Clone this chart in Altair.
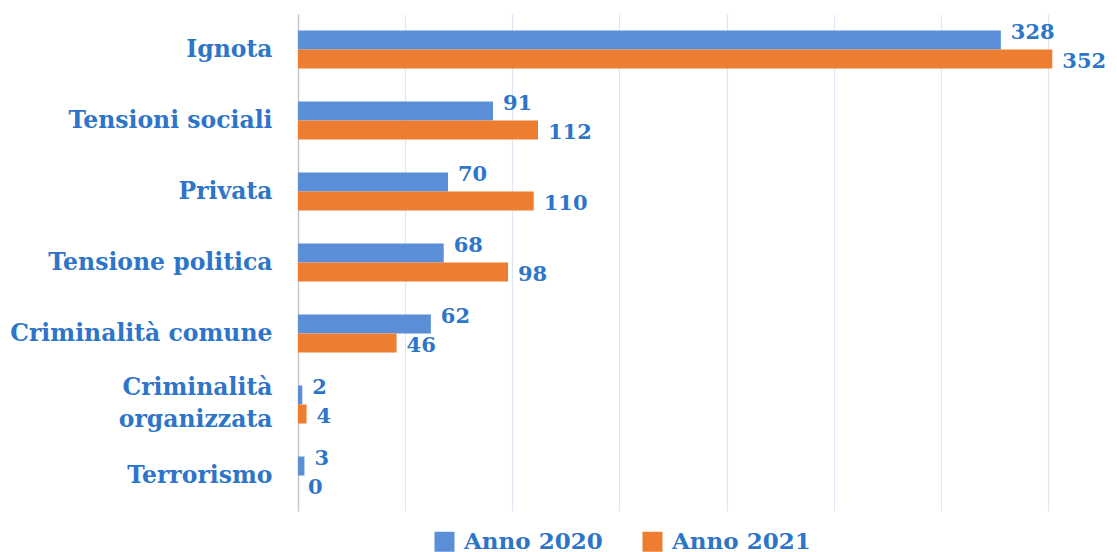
import altair as alt
import pandas as pd

categories = ["Ignota", "Tensioni sociali", "Privata", "Tensione politica",
              "Criminalità comune", "Criminalità organizzata", "Terrorismo"]
vals_2020 = [328, 91, 70, 68, 62, 2, 3]
vals_2021 = [352, 112, 110, 98, 46, 4, 0]
series = ["Anno 2020", "Anno 2021"]
colors = ["#5a8fd7", "#ed7d31"]
grid_values = [0, 50, 100, 150, 200, 250, 300, 350]

rows = []
for c, a, b in zip(categories, vals_2020, vals_2021):
    rows.append({"cat": c, "serie": series[0], "val": a})
    rows.append({"cat": c, "serie": series[1], "val": b})
df = pd.DataFrame(rows)

FONT = "DejaVu Serif"
TXT = "#2e75c9"

y = alt.Y("cat:N", sort=categories, title=None,
          scale=alt.Scale(paddingInner=0.465, paddingOuter=0.2325),
          axis=alt.Axis(labelFont=FONT, labelFontWeight="bold", labelFontSize=23.5,
                        labelColor=TXT, labelPadding=26, ticks=False, labelLimit=400,
                        domainColor="#c9c9c9", domainWidth=1.5,
                        labelExpr="datum.label == 'Criminalità organizzata' ? ['Criminalità','organizzata'] : datum.label",
                        labelLineHeight=32,
                        labelOffset={"condition": {"test": "datum.label == 'Criminalità organizzata'", "value": -17}, "value": 0}))
x = alt.X("val:Q", title=None, scale=alt.Scale(domain=[0, 350], nice=False),
          axis=alt.Axis(values=grid_values, labels=False, ticks=False, domain=False,
                        grid=True, gridColor="#dde7f3", gridWidth=1.2))
yoff = alt.YOffset("serie:N", sort=series)

base = alt.Chart(df)

bars = base.mark_bar().encode(
    y=y, x=x, yOffset=yoff,
    color=alt.Color("serie:N", scale=alt.Scale(domain=series, range=colors),
                    legend=alt.Legend(title=None, orient="none", legendX=135, legendY=516,
                                      direction="horizontal", symbolType="square",
                                      symbolSize=400, symbolStrokeWidth=0, labelOffset=8,
                                      labelFont=FONT, labelFontSize=23, labelFontWeight="bold",
                                      labelColor=TXT, columnPadding=38, symbolOpacity=1))
)

t1 = base.transform_filter(alt.datum.serie == series[0]).mark_text(
    align="left", baseline="middle", dx=10, dy=-7, font=FONT, fontSize=21,
    fontWeight="bold", color=TXT
).encode(y=y, x="val:Q", yOffset=yoff, text="val:Q")

t2 = base.transform_filter(alt.datum.serie == series[1]).mark_text(
    align="left", baseline="middle", dx=10, dy=3, font=FONT, fontSize=21,
    fontWeight="bold", color=TXT
).encode(y=y, x="val:Q", yOffset=yoff, text="val:Q")

chart = alt.layer(bars, t1, t2).properties(
    width=750, height=497,
    autosize=alt.AutoSizeParams(type="none"),
    padding={"left": 290, "top": 6, "right": 61, "bottom": 42}
).configure_view(stroke=None)

chart.save("out.html", embed_options={"renderer": "svg", "actions": False})
